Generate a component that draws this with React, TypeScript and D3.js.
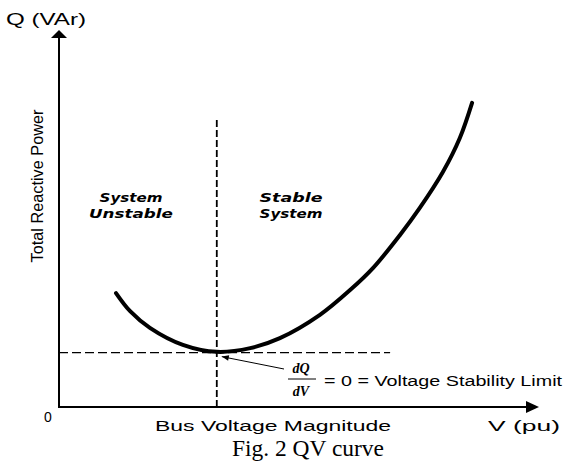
import React from "react";
import * as d3 from "d3";

// QV curve (arbitrary units, 0..10 on each axis)
const voltage = [1.21, 1.51, 1.93, 2.63, 3.35, 4.06, 4.69, 5.54, 6.18, 6.67, 7.24, 7.66, 8.15, 8.51, 8.77];
const reactivePower = [3.08, 2.59, 2.14, 1.68, 1.49, 1.59, 1.86, 2.49, 3.16, 3.76, 4.65, 5.38, 6.35, 7.27, 8.22];

const criticalV = 3.35;
const criticalQ = 1.47;
const regionLabels = [
  ["System", "Unstable"],
  ["Stable", "System"],
];

const W = 568;
const H = 466;

export default function App() {
  const x = d3.scaleLinear().domain([0, 10]).range([59, 530]);
  const y = d3.scaleLinear().domain([0, 10]).range([407, 37]);

  const pts: [number, number][] = voltage.map((v, i) => [v, reactivePower[i]]);
  const line = d3
    .line<[number, number]>()
    .x((d) => x(d[0]))
    .y((d) => y(d[1]))
    .curve(d3.curveCatmullRom.alpha(0.5));

  const sans = "'Liberation Sans', Arial, sans-serif";
  const wide = "'DejaVu Sans', Verdana, sans-serif";
  const serif = "'Liberation Serif', 'Times New Roman', serif";

  const x0 = x(0);
  const y0 = y(0);

  return (
    <svg
      width={W}
      height={H}
      style={{ position: "absolute", left: 0, top: 0, background: "#fff" }}
    >
      <defs>
        <marker id="arrSmall" viewBox="0 0 10 10" refX="10" refY="5" markerWidth="9" markerHeight="7" orient="auto">
          <path d="M0,1 L10,5 L0,9 z" fill="#000" />
        </marker>
      </defs>

      {/* axes */}
      <line x1={x0} y1={y0 + 1} x2={x0} y2={36} stroke="#000" strokeWidth={2} />
      <path d={`M${x0},30 L${x0 + 8},38 L${x0 - 8},38 Z`} fill="#000" />
      <line x1={x0 - 1} y1={y0} x2={530} y2={y0} stroke="#000" strokeWidth={2} />
      <path d={`M539,${y0} L526,${y0 - 6} L526,${y0 + 6} Z`} fill="#000" />

      {/* dashed guides */}
      <line x1={x(criticalV)} y1={y0} x2={x(criticalV)} y2={y(7.78)} stroke="#000" strokeWidth={1.8} strokeDasharray="7,3" />
      <line x1={x0} y1={y(criticalQ)} x2={x(7.03)} y2={y(criticalQ)} stroke="#000" strokeWidth={1.3} strokeDasharray="9,4" />

      {/* QV curve */}
      <path d={line(pts) || ""} fill="none" stroke="#000" strokeWidth={4} strokeLinecap="round" />

      {/* arrow to the nose point */}
      <line x1={284} y1={369} x2={x(criticalV) + 5} y2={y(criticalQ) + 4} stroke="#000" strokeWidth={1} markerEnd="url(#arrSmall)" />

      {/* labels */}
      <text x={6} y={25} fontFamily={sans} fontSize={16} textLength={80} lengthAdjust="spacingAndGlyphs">Q (VAr)</text>
      <text
        transform="translate(43,186) rotate(-90)"
        textAnchor="middle"
        fontFamily={sans}
        fontSize={17}
        textLength={153}
        lengthAdjust="spacingAndGlyphs"
      >
        Total Reactive Power
      </text>
      <text x={48} y={422} textAnchor="middle" fontFamily={sans} fontSize={14}>0</text>

      {regionLabels.map((lines, i) =>
        lines.map((t, j) => (
          <text
            key={i + "-" + j}
            x={i === 0 ? 131 : 291}
            y={202 + j * 16}
            textAnchor="middle"
            fontFamily={wide}
            fontWeight="bold"
            fontStyle="italic"
            fontSize={13}
            textLength={t.length * 10.5}
            lengthAdjust="spacingAndGlyphs"
          >
            {t}
          </text>
        ))
      )}

      <text x={155} y={431} fontFamily={sans} fontSize={15} textLength={236} lengthAdjust="spacingAndGlyphs">Bus Voltage Magnitude</text>
      <text x={488} y={431} fontFamily={sans} fontSize={15} textLength={72} lengthAdjust="spacingAndGlyphs">V (pu)</text>

      {/* dQ/dV = 0 */}
      <text x={301} y={373} textAnchor="middle" fontFamily={serif} fontStyle="italic" fontWeight="bold" fontSize={14}>dQ</text>
      <line x1={288} y1={379} x2={316} y2={379} stroke="#000" strokeWidth={1} />
      <text x={301} y={396} textAnchor="middle" fontFamily={serif} fontStyle="italic" fontWeight="bold" fontSize={14}>dV</text>
      <text x={324} y={386} fontFamily={sans} fontSize={14} textLength={238} lengthAdjust="spacingAndGlyphs">= 0 = Voltage Stability Limit</text>

      <text x={232} y={456} fontFamily={serif} fontSize={23} textLength={152} lengthAdjust="spacingAndGlyphs">
        Fig. 2 QV curve
      </text>
    </svg>
  );
}
